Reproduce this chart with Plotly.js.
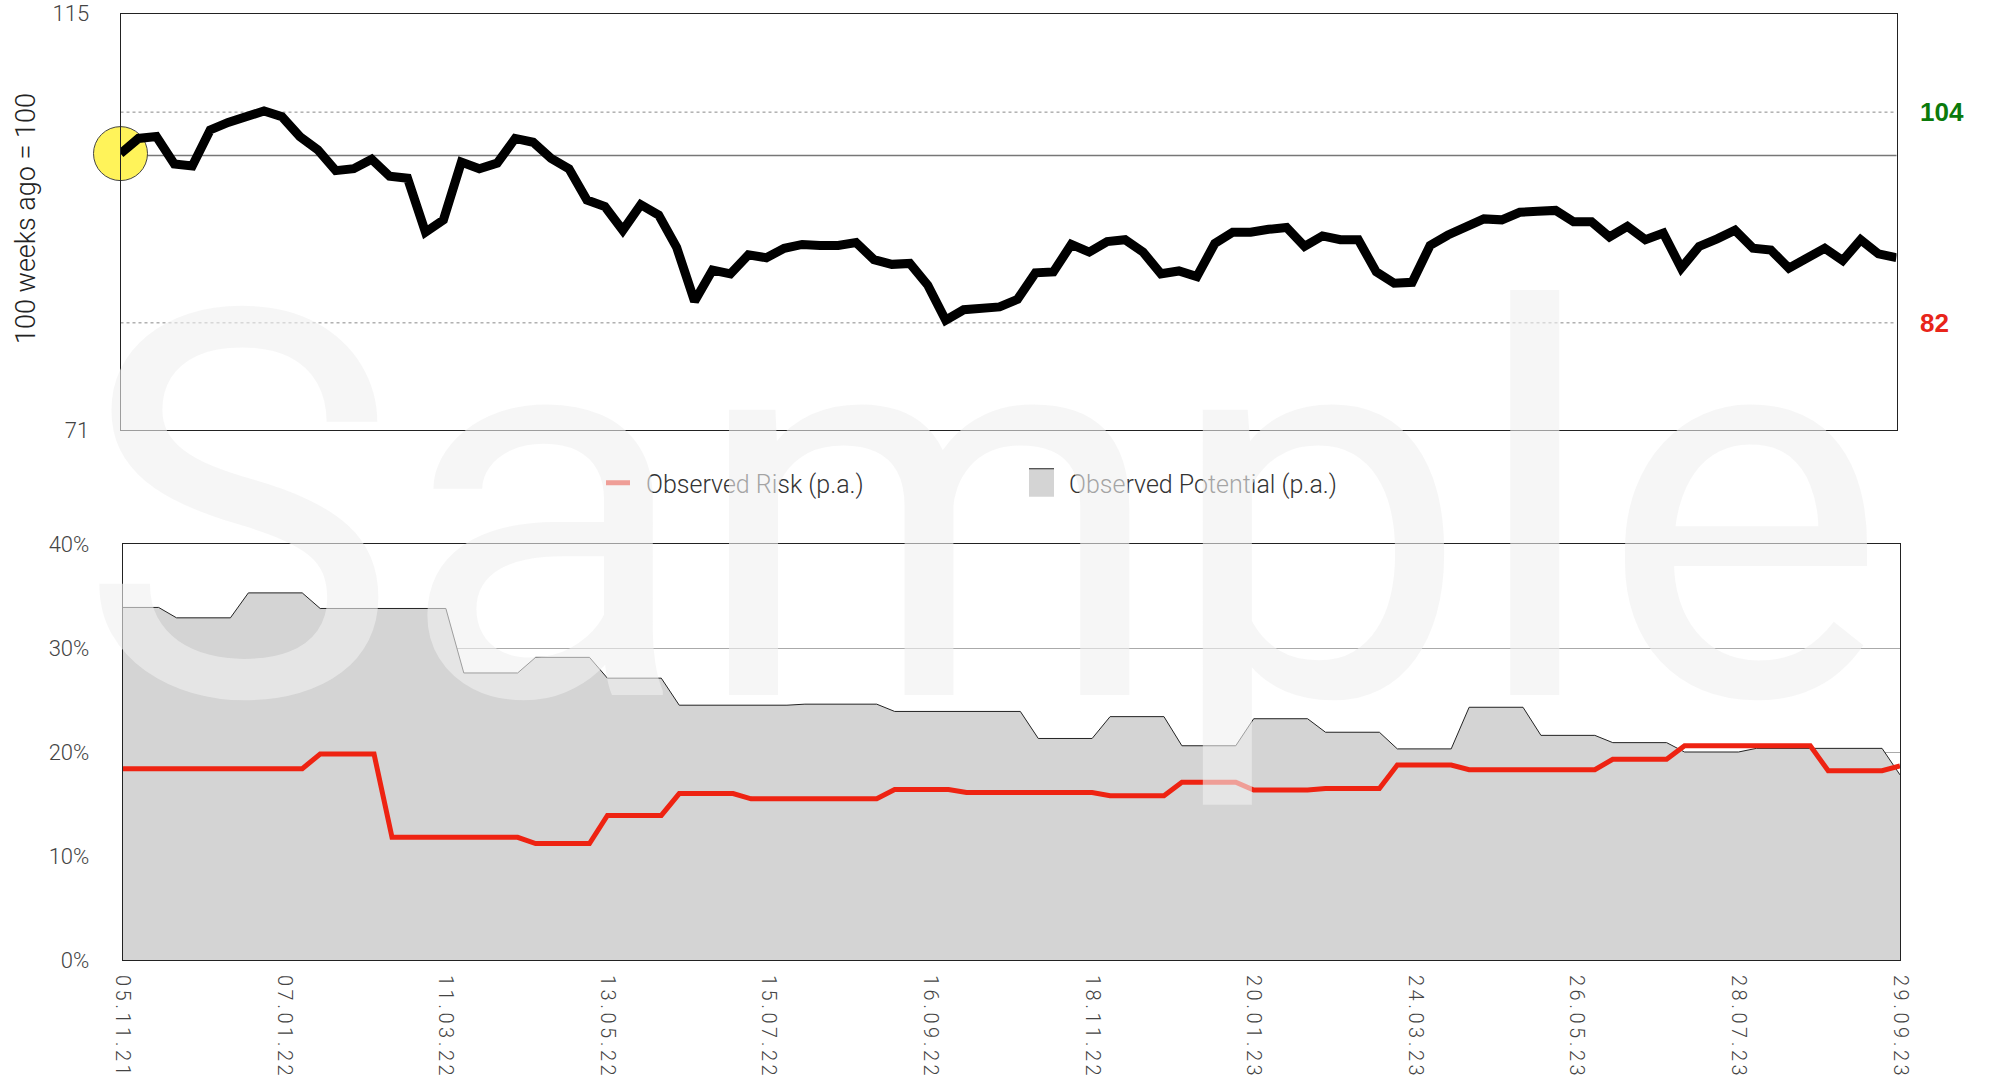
<!DOCTYPE html>
<html><head><meta charset="utf-8">
<script src="https://cdn.plot.ly/plotly-3.0.1.min.js"></script>
<style>
html,body{margin:0;padding:0;background:#fff}
#chart{width:1995px;height:1081px}
.x2tick text{letter-spacing:3.5px}
</style>
</head><body><div id="chart"></div>
<script>
// ---------- data ----------
const startDate = '2021-11-05';
const weekCount = 100;
const indexValues = [
  100.2, 101.8, 102.0, 99.1, 98.9, 102.7, 103.5, 104.0, 104.7, 104.1,
  102.0, 100.6, 98.4, 98.6, 99.6, 97.8, 97.6, 91.9, 93.2, 99.3,
  98.6, 99.2, 101.8, 101.4, 99.7, 98.6, 95.3, 94.6, 92.1, 94.8,
  93.7, 90.3, 84.6, 87.9, 87.5, 89.5, 89.2, 90.2, 90.6, 90.5,
  90.5, 90.8, 89.0, 88.5, 88.6, 86.3, 82.6, 83.7, 83.8, 84.0,
  84.8, 87.6, 87.7, 90.6, 89.8, 90.9, 91.1, 89.8, 87.5, 87.8,
  87.2, 90.7, 91.9, 91.9, 92.2, 92.4, 90.4, 91.5, 91.1, 91.1,
  87.7, 86.5, 86.6, 90.5, 91.6, 92.5, 93.3, 93.2, 94.0, 94.1,
  94.2, 93.0, 93.0, 91.4, 92.5, 91.1, 91.8, 88.1, 90.4, 91.2,
  92.1, 90.2, 90.0, 88.1, 89.1, 90.2, 88.9, 91.1, 89.6, 89.2
];
const observedPotential = [
  33.9, 33.9, 33.9, 32.9, 32.9, 32.9, 32.9, 35.3, 35.3, 35.3,
  35.3, 33.8, 33.8, 33.8, 33.8, 33.8, 33.8, 33.8, 33.8, 27.6,
  27.6, 27.6, 27.6, 29.1, 29.1, 29.1, 29.1, 27.1, 27.1, 27.1,
  27.1, 24.5, 24.5, 24.5, 24.5, 24.5, 24.5, 24.5, 24.6, 24.6,
  24.6, 24.6, 24.6, 23.9, 23.9, 23.9, 23.9, 23.9, 23.9, 23.9,
  23.9, 21.3, 21.3, 21.3, 21.3, 23.4, 23.4, 23.4, 23.4, 20.6,
  20.6, 20.6, 20.6, 23.2, 23.2, 23.2, 23.2, 21.9, 21.9, 21.9,
  21.9, 20.3, 20.3, 20.3, 20.3, 24.3, 24.3, 24.3, 24.3, 21.6,
  21.6, 21.6, 21.6, 20.9, 20.9, 20.9, 20.9, 20.0, 20.0, 20.0,
  20.0, 20.35, 20.35, 20.35, 20.35, 20.35, 20.35, 20.35, 20.35, 17.8
];
const observedRisk = [
  18.4, 18.4, 18.4, 18.4, 18.4, 18.4, 18.4, 18.4, 18.4, 18.4,
  18.4, 19.8, 19.8, 19.8, 19.8, 11.8, 11.8, 11.8, 11.8, 11.8,
  11.8, 11.8, 11.8, 11.2, 11.2, 11.2, 11.2, 13.9, 13.9, 13.9,
  13.9, 16.0, 16.0, 16.0, 16.0, 15.5, 15.5, 15.5, 15.5, 15.5,
  15.5, 15.5, 15.5, 16.4, 16.4, 16.4, 16.4, 16.1, 16.1, 16.1,
  16.1, 16.1, 16.1, 16.1, 16.1, 15.8, 15.8, 15.8, 15.8, 17.1,
  17.1, 17.1, 17.1, 16.35, 16.35, 16.35, 16.35, 16.5, 16.5, 16.5,
  16.5, 18.75, 18.75, 18.75, 18.75, 18.3, 18.3, 18.3, 18.3, 18.3,
  18.3, 18.3, 18.3, 19.3, 19.3, 19.3, 19.3, 20.6, 20.6, 20.6,
  20.6, 20.6, 20.6, 20.6, 20.6, 18.2, 18.2, 18.2, 18.2, 18.65
];
const tickLabels = ['05.11.21','07.01.22','11.03.22','13.05.22','15.07.22','16.09.22',
  '18.11.22','20.01.23','24.03.23','26.05.23','28.07.23','29.09.23'];
const riskTicks = [0, 10, 20, 30, 40];
const indexTicks = [71, 115];
const upperLevel = 104.58;
const baseLevel = 100;
const lowerLevel = 82.32;

// ---------- weekly category labels ----------
function fmt(d){
  const dd = String(d.getUTCDate()).padStart(2,'0');
  const mm = String(d.getUTCMonth()+1).padStart(2,'0');
  const yy = String(d.getUTCFullYear()).slice(2);
  return dd + '.' + mm + '.' + yy;
}
const dates = [];
const t0 = new Date(startDate + 'T00:00:00Z');
for (let i = 0; i < weekCount; i++) dates.push(fmt(new Date(t0.getTime() + i*7*86400000)));

const lightFont = 'Roboto, "Liberation Sans", sans-serif';
const W = 1995, H = 1081;

const traces = [
  { // start marker
    x: [dates[0]], y: [indexValues[0]], xaxis: 'x', yaxis: 'y', type: 'scatter', mode: 'markers',
    marker: {size: 54, color: '#fff35a', line: {color: '#444', width: 1}},
    showlegend: false, cliponaxis: false, hoverinfo: 'skip'
  },
  {
    x: dates, y: indexValues, xaxis: 'x', yaxis: 'y', type: 'scatter', mode: 'lines',
    line: {color: '#000', width: 9}, showlegend: false, cliponaxis: false, name: 'Index'
  },
  {
    x: dates, y: observedPotential, xaxis: 'x2', yaxis: 'y2', type: 'scatter', mode: 'lines',
    fill: 'tozeroy', fillcolor: '#d4d4d4', line: {color: '#222', width: 1},
    name: 'Observed Potential (p.a.)', legend: 'legend2'
  },
  {
    x: dates, y: observedRisk, xaxis: 'x2', yaxis: 'y2', type: 'scatter', mode: 'lines',
    line: {color: '#ee2312', width: 5}, name: 'Observed Risk (p.a.)', legend: 'legend'
  }
];

const tickFont = {family: lightFont, weight: 300, size: 22, color: '#444'};
const legendFont = {family: lightFont, weight: 300, size: 25, color: '#333'};

const layout = {
  width: W, height: H,
  margin: {l: 0, r: 0, t: 0, b: 0},
  paper_bgcolor: '#fff', plot_bgcolor: 'rgba(0,0,0,0)',
  xaxis: {
    domain: [120.5/W, 1896.5/W], type: 'category', range: [0, weekCount-1],
    showticklabels: false, ticks: '', showgrid: false, zeroline: false,
    showline: true, mirror: true, linecolor: '#222', linewidth: 1, anchor: 'y'
  },
  yaxis: {
    domain: [1 - 430/H, 1 - 13.5/H], range: [71, 115], tickvals: indexTicks,
    ticktext: indexTicks.map(String), showgrid: false, zeroline: false,
    showline: true, mirror: true, linecolor: '#222', linewidth: 1,
    ticks: '', ticklabelstandoff: 26, tickfont: tickFont, anchor: 'x'
  },
  xaxis2: {
    domain: [122.7/W, 1900/W], type: 'category', range: [0, weekCount-1],
    tickvals: tickLabels, ticktext: tickLabels, tickangle: 90,
    tickfont: {family: lightFont, weight: 300, size: 20, color: '#444'},
    ticks: '', ticklabelstandoff: 10, showgrid: false, zeroline: false,
    showline: true, mirror: true, linecolor: '#222', linewidth: 1, anchor: 'y2'
  },
  yaxis2: {
    domain: [1 - 960/H, 1 - 544/H], range: [0, 40], tickvals: riskTicks,
    ticktext: riskTicks.map(v => v + '%'), showgrid: true, gridcolor: '#aaa', gridwidth: 1,
    zeroline: false, showline: true, mirror: true, linecolor: '#222', linewidth: 1,
    ticks: '', ticklabelstandoff: 28, tickfont: tickFont, anchor: 'x2'
  },
  showlegend: true,
  legend: {
    orientation: 'h', x: 606/W, xanchor: 'left', y: 1 - 483/H, yanchor: 'middle',
    font: legendFont, bgcolor: 'rgba(0,0,0,0)'
  },
  legend2: {
    orientation: 'h', x: 1029/W, xanchor: 'left', y: 1 - 483/H, yanchor: 'middle',
    font: legendFont, bgcolor: 'rgba(0,0,0,0)'
  },
  shapes: [
    {type: 'line', xref: 'x domain', yref: 'y', x0: 0, x1: 1, y0: upperLevel, y1: upperLevel,
     line: {color: '#888', width: 1, dash: 'dot'}, layer: 'below'},
    {type: 'line', xref: 'x domain', yref: 'y', x0: 0, x1: 1, y0: baseLevel, y1: baseLevel,
     line: {color: '#777', width: 1.5}, layer: 'below'},
    {type: 'line', xref: 'x domain', yref: 'y', x0: 0, x1: 1, y0: lowerLevel, y1: lowerLevel,
     line: {color: '#888', width: 1, dash: 'dot'}, layer: 'below'}
  ],
  annotations: [
    {text: '100 weeks ago = 100', xref: 'paper', yref: 'paper', x: 26/W, y: 1 - 219/H,
     textangle: -90, showarrow: false, xanchor: 'center', yanchor: 'middle',
     font: {family: lightFont, weight: 300, size: 27, color: '#222'}},
    {text: String(Math.floor(upperLevel)), xref: 'paper', yref: 'y', x: 1918/W, y: upperLevel,
     xanchor: 'left', yanchor: 'middle', showarrow: false,
     font: {family: '"Liberation Sans", Arial, sans-serif', weight: 700, size: 26, color: '#0b7a0b'}},
    {text: String(Math.floor(lowerLevel)), xref: 'paper', yref: 'y', x: 1918/W, y: lowerLevel,
     xanchor: 'left', yanchor: 'middle', showarrow: false,
     font: {family: '"Liberation Sans", Arial, sans-serif', weight: 700, size: 26, color: '#e8251a'}},
    {text: 'Sample', xref: 'paper', yref: 'paper', x: 982/W, y: 1 - 510/H,
     xanchor: 'center', yanchor: 'middle', showarrow: false,
     font: {family: lightFont, weight: 400, size: 540, color: 'rgba(240,240,240,0.6)'}}
  ]
};

Plotly.newPlot('chart', traces, layout, {staticPlot: true, displayModeBar: false}).then(function(){
  document.querySelectorAll('g.traces').forEach(function(g){
    const f = g.querySelector('.legendfill path');
    const l = g.querySelector('.legendlines path');
    if (f && f.getAttribute('d')) {
      f.setAttribute('d', 'M-3,-14h28v28h-28z');
      if (l) l.setAttribute('d', 'M-3,-14h28');
    } else if (l) {
      l.setAttribute('d', 'M-2,0h26');
    }
  });
});
</script>
</body></html>
